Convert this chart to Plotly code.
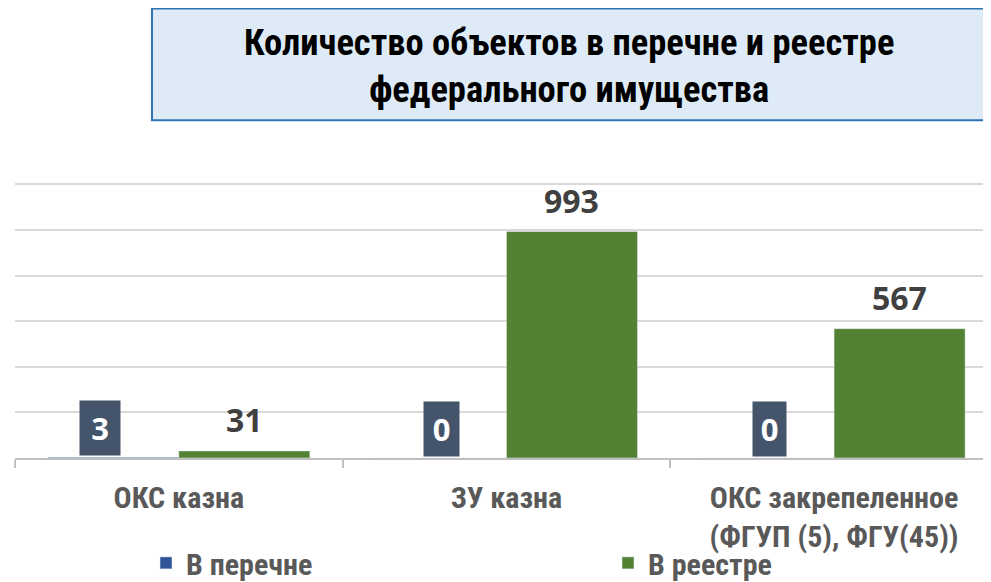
import plotly.graph_objects as go

categories = ["ОКС казна", "ЗУ казна", "ОКС закрепеленное<br>(ФГУП (5), ФГУ(45))"]
in_list = [3, 0, 0]
in_registry = [31, 993, 567]
series_names = ["В перечне", "В реестре"]
title_lines = ["Количество объектов в перечне и реестре", "федерального имущества"]

# page body has an 8px margin; figure sized so it ends at the window edge
OFF = 8
W, H = 991 - OFF, 582 - OFF
YMAX = 1210
# plot area in screen (reference) pixels; gridline 1200 sits at y=184
SB = 458
ST = SB - (SB - 184) * YMAX / 1200
SL, SR = 15, 991
pw, ph = SR - SL, SB - ST

def px(x):
    return (x - SL) / pw

def py(y):
    return (SB - y) / ph

NARROW = "Liberation Sans Narrow, Arial Narrow, Roboto Condensed, DejaVu Sans Condensed, sans-serif"
NUM = "Open Sans, Calibri, Carlito, sans-serif"

BLUE = "#2F5597"
GREEN = "#548235"
BOX = "#44546A"
GRAY = "#595959"

# label-box styling per category (width / horizontal nudge, px)
box_w = [38, 33, 31]
box_nudge = [-13, 1, 1]

fig = go.Figure()
fig.add_trace(go.Bar(x=categories, y=in_list, name=series_names[0], marker_color=BLUE, legend="legend"))
fig.add_trace(go.Bar(x=categories, y=in_registry, name=series_names[1], marker_color=GREEN, legend="legend2"))

ncat = len(categories)
cat_px = pw / (ncat - 0.5 + 0.479)  # right edge extends past the window
shift = 0.2 * cat_px

annotations = []
for c, v, bw, nd in zip(categories, in_list, box_w, box_nudge):
    annotations.append(dict(
        x=c, y=v, xref="x", yref="y", text=f"<b>{v}</b>", showarrow=False,
        yanchor="bottom", yshift=1, xshift=-shift + nd, width=bw, height=52,
        bgcolor=BOX, font=dict(family=NUM, size=31, color="white"),
    ))
for c, v in zip(categories, in_registry):
    annotations.append(dict(
        x=c, y=v, xref="x", yref="y", text=f"<b>{v}</b>", showarrow=False,
        yanchor="bottom", yshift=8, xshift=shift,
        font=dict(family=NUM, size=32, color="#404040"),
    ))
annotations.append(dict(
    x=px(569), y=py(66), xref="paper", yref="paper",
    text="<b>" + "<br>".join(title_lines) + "</b>", showarrow=False,
    xanchor="center", yanchor="middle",
    font=dict(family=NARROW, size=36.5, color="black"),
))

legend_common = dict(
    orientation="h", xanchor="left", yanchor="middle",
    font=dict(family=NARROW, size=30, color=GRAY, weight="bold"),
    bgcolor="rgba(0,0,0,0)",
)

fig.update_layout(
    width=W, height=H,
    margin=dict(l=SL - OFF, r=W - (SR - OFF), t=ST - OFF, b=H - (SB - OFF), pad=0, autoexpand=False),
    paper_bgcolor="white", plot_bgcolor="white",
    barmode="group", bargap=0.2, bargroupgap=0,
    showlegend=True,
    legend=dict(x=px(146), y=py(563), **legend_common),
    legend2=dict(x=px(608), y=py(563), **legend_common),
    shapes=[dict(
        type="rect", xref="paper", yref="paper",
        x0=px(152), x1=px(988), y0=py(120), y1=py(8),
        fillcolor="#DEEBF7", line=dict(color="#2E75B6", width=2), layer="below",
    )],
    annotations=annotations,
)
fig.update_xaxes(
    range=[-0.5, ncat - 0.5 - 0.021], showgrid=False, automargin=False,
    showline=True, linecolor="#BFBFBF", linewidth=2,
    ticks="outside", tickson="boundaries", ticklen=8, tickcolor="#BFBFBF", tickwidth=1.5,
    tickfont=dict(family=NARROW, size=30, color=GRAY, weight="bold"),
    ticklabelstandoff=12,
)
fig.update_yaxes(
    range=[0, YMAX], dtick=200, showgrid=True, gridcolor="#D9D9D9", gridwidth=1.5,
    showticklabels=False, zeroline=False, showline=False, automargin=False,
)
fig.update_traces(hoverinfo="skip")
fig.write_html("out.html")
